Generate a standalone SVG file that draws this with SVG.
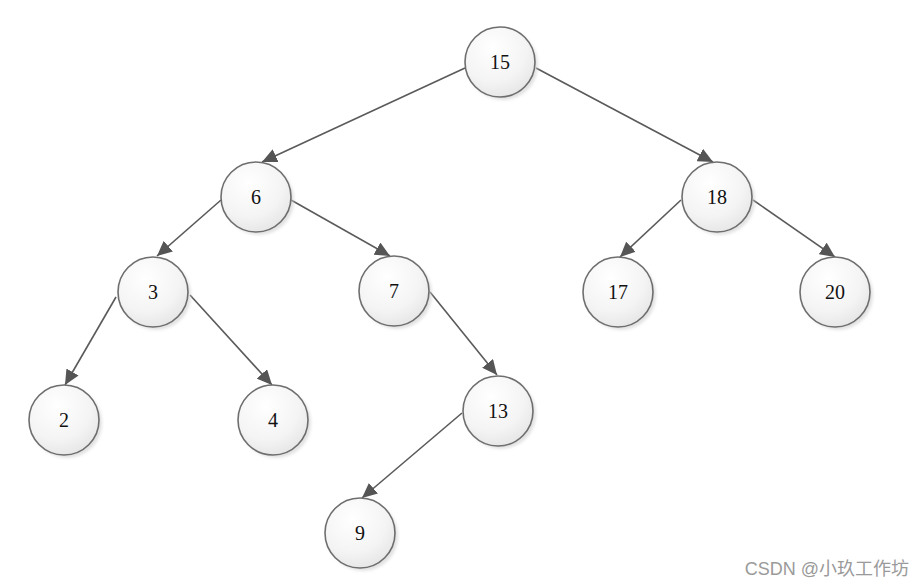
<svg xmlns="http://www.w3.org/2000/svg" width="923" height="587" viewBox="0 0 923 587">
<style>
.node circle.body{fill:url(#g);stroke:#6e6e6e;stroke-width:1.6}
.node circle.sh{fill:#cfcfcf;opacity:0.6;filter:url(#blur)}
.node text{font-family:"Liberation Serif","DejaVu Serif",serif;font-size:20px;fill:#111;text-anchor:middle;dominant-baseline:central}
.edges line{stroke:#5a5a5a;stroke-width:1.6;marker-end:url(#arr)}
.wm{font-family:"Liberation Sans","Noto Sans CJK SC",sans-serif;font-size:18px;fill:#9a9a9a;text-anchor:end}
</style>
<defs>
<radialGradient id="g" cx="0.4" cy="0.3" r="0.8">
<stop offset="0" stop-color="#ffffff"/>
<stop offset="0.6" stop-color="#f4f4f4"/>
<stop offset="1" stop-color="#e2e2e2"/>
</radialGradient>
<filter id="blur" x="-20%" y="-20%" width="140%" height="140%"><feGaussianBlur stdDeviation="1.5"/></filter>
<marker id="arr" markerUnits="userSpaceOnUse" markerWidth="16" markerHeight="14" refX="15" refY="7" orient="auto">
<path d="M0,0 L15,7 L0,14 Z" fill="#555"/>
</marker>
</defs>
<rect width="923" height="587" fill="#fff"/>
<g class="edges">
<line x1="465" y1="68" x2="262" y2="162"/>
<line x1="536" y1="68" x2="713" y2="162"/>
<line x1="221" y1="200" x2="157" y2="256"/>
<line x1="291" y1="200" x2="390" y2="256"/>
<line x1="116" y1="297" x2="65" y2="385"/>
<line x1="190" y1="295" x2="272" y2="385"/>
<line x1="430" y1="292" x2="497" y2="375"/>
<line x1="462" y1="413" x2="362" y2="498"/>
<line x1="681" y1="200" x2="620" y2="257"/>
<line x1="753" y1="200" x2="835" y2="257"/>
</g>
<g id="n15" class="node"><circle class="sh" cx="503" cy="65" r="35"/><circle class="body" cx="500" cy="62" r="35"/><text x="500" y="62">15</text></g>
<g id="n6" class="node"><circle class="sh" cx="259" cy="200" r="35"/><circle class="body" cx="256" cy="197" r="35"/><text x="256" y="197">6</text></g>
<g id="n18" class="node"><circle class="sh" cx="720" cy="200" r="35"/><circle class="body" cx="717" cy="197" r="35"/><text x="717" y="197">18</text></g>
<g id="n3" class="node"><circle class="sh" cx="156" cy="295" r="35"/><circle class="body" cx="153" cy="292" r="35"/><text x="153" y="292">3</text></g>
<g id="n7" class="node"><circle class="sh" cx="397" cy="294" r="35"/><circle class="body" cx="394" cy="291" r="35"/><text x="394" y="291">7</text></g>
<g id="n17" class="node"><circle class="sh" cx="621" cy="295" r="35"/><circle class="body" cx="618" cy="292" r="35"/><text x="618" y="292">17</text></g>
<g id="n20" class="node"><circle class="sh" cx="838" cy="295" r="35"/><circle class="body" cx="835" cy="292" r="35"/><text x="835" y="292">20</text></g>
<g id="n2" class="node"><circle class="sh" cx="67" cy="423" r="35"/><circle class="body" cx="64" cy="420" r="35"/><text x="64" y="420">2</text></g>
<g id="n4" class="node"><circle class="sh" cx="276" cy="423" r="35"/><circle class="body" cx="273" cy="420" r="35"/><text x="273" y="420">4</text></g>
<g id="n13" class="node"><circle class="sh" cx="501" cy="414" r="35"/><circle class="body" cx="498" cy="411" r="35"/><text x="498" y="411">13</text></g>
<g id="n9" class="node"><circle class="sh" cx="363" cy="536" r="35"/><circle class="body" cx="360" cy="533" r="35"/><text x="360" y="533">9</text></g>
<text class="wm" x="909" y="575">CSDN @小玖工作坊</text>
</svg>
